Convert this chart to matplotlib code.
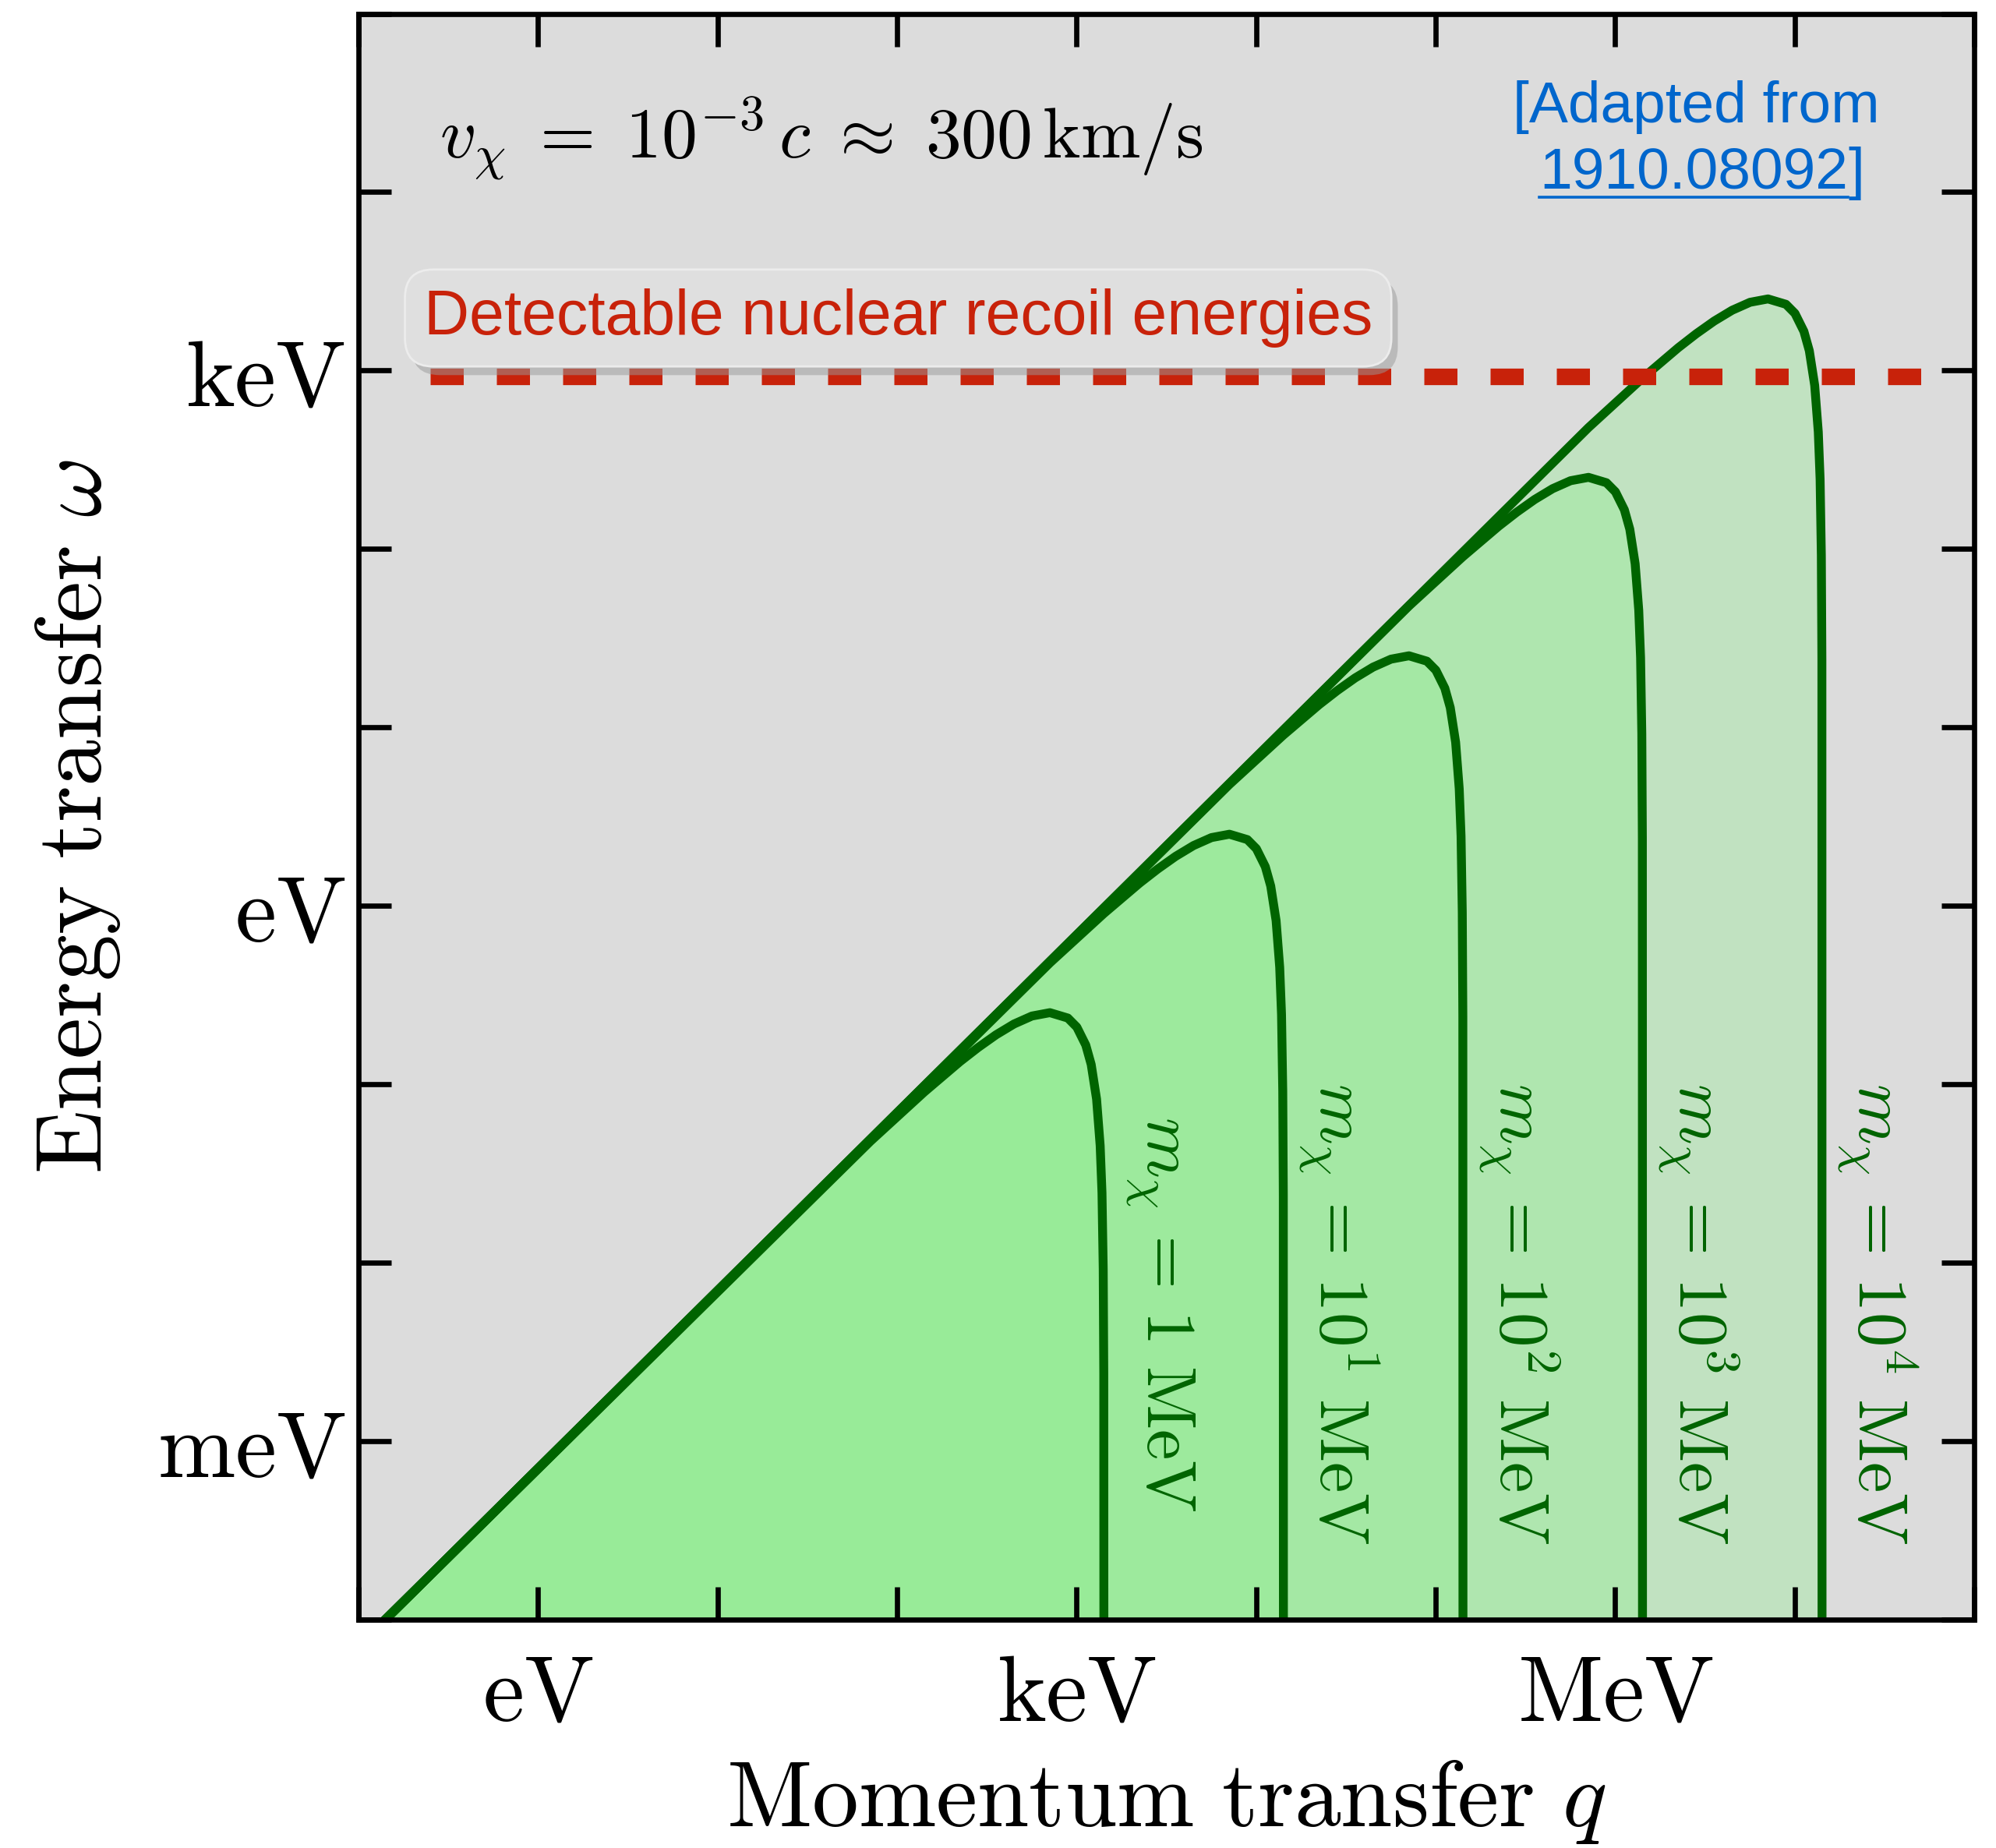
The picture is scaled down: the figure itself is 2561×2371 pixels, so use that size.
"""
Kinematically allowed (q, omega) region for DM-nucleus scattering,
one envelope per DM mass, with the nuclear-recoil detection threshold.
"""

import matplotlib
matplotlib.use("Agg")
import matplotlib.pyplot as plt
import matplotlib.patheffects as pe
from matplotlib.ticker import FixedLocator, FuncFormatter, NullLocator

plt.rcParams["mathtext.fontset"] = "cm"

# ── Data (eV) ─────────────────────────────────────────────────────────────────

mass_labels = ["1", "10^{1}", "10^{2}", "10^{3}", "10^{4}"]

q_1MeV = [0.1, 71.0, 141.7, 224.5, 282.7, 355.8, 448.0, 564.0, 710.0,
          893.8, 1003, 1125, 1206, 1292, 1353, 1385, 1407, 1417, 1420]
w_1MeV = [7.1e-5, 0.0479, 0.0905, 0.1342, 0.1607, 0.1893, 0.2177, 0.2413,
          0.252, 0.2351, 0.2091, 0.1658, 0.1291, 0.0826, 0.0453, 0.0246,
          0.0092, 0.0024, 1e-5]

q_10MeV = [0.1, 710, 1417, 2245, 2827, 3558, 4480, 5640, 7100,
           8938, 10030, 11250, 12060, 12920, 13530, 13850, 14070, 14170, 14200]
w_10MeV = [7.1e-5, 0.479, 0.905, 1.342, 1.607, 1.893, 2.177, 2.413,
           2.52, 2.351, 2.091, 1.658, 1.291, 0.826, 0.453, 0.246,
           0.092, 0.024, 1e-5]

q_100MeV = [0.1, 7.1e3, 1.417e4, 2.245e4, 2.827e4, 3.558e4, 4.48e4, 5.64e4, 7.1e4,
            8.938e4, 1.003e5, 1.125e5, 1.206e5, 1.292e5, 1.353e5, 1.385e5,
            1.407e5, 1.417e5, 1.42e5]
w_100MeV = [7.1e-5, 4.79, 9.05, 13.42, 16.07, 18.93, 21.77, 24.13,
            25.2, 23.51, 20.91, 16.58, 12.91, 8.26, 4.53, 2.46,
            0.92, 0.24, 1e-5]

q_1GeV = [0.1, 7.1e4, 1.417e5, 2.245e5, 2.827e5, 3.558e5, 4.48e5, 5.64e5, 7.1e5,
          8.938e5, 1.003e6, 1.125e6, 1.206e6, 1.292e6, 1.353e6, 1.385e6,
          1.407e6, 1.417e6, 1.42e6]
w_1GeV = [7.1e-5, 47.9, 90.5, 134.2, 160.7, 189.3, 217.7, 241.3,
          252.0, 235.1, 209.1, 165.8, 129.1, 82.6, 45.3, 24.6,
          9.2, 2.4, 1e-5]

q_10GeV = [0.1, 7.1e5, 1.417e6, 2.245e6, 2.827e6, 3.558e6, 4.48e6, 5.64e6, 7.1e6,
           8.938e6, 1.003e7, 1.125e7, 1.206e7, 1.292e7, 1.353e7, 1.385e7,
           1.407e7, 1.417e7, 1.42e7]
w_10GeV = [7.1e-5, 479, 905, 1342, 1607, 1893, 2177, 2413,
           2520, 2351, 2091, 1658, 1291, 826, 453, 246,
           92, 24, 1e-5]

curves = [(q_1MeV, w_1MeV), (q_10MeV, w_10MeV), (q_100MeV, w_100MeV),
          (q_1GeV, w_1GeV), (q_10GeV, w_10GeV)]

# label anchor for each mass (centre of rotated text)
label_q = [2.9e3, 2.9e4, 2.9e5, 2.9e6, 2.9e7]
label_w = 5.2e-3

# nuclear-recoil threshold line
thr_q = [0.25, 5.2e7]
thr_w = [930, 930]

x_ticklabels = {1e0: "eV", 1e3: "keV", 1e6: "MeV"}
y_ticklabels = {1e-3: "meV", 1e0: "eV", 1e3: "keV"}

# ── Style ────────────────────────────────────────────────────────────────────

BG     = "#dcdcdc"
GREEN  = "#006400"
FILL   = "#90ee90"
RED    = "#c8220a"
BLUE   = "#0066cc"
SANS   = "Liberation Sans"

fig = plt.figure(figsize=(12.805, 11.855), dpi=200)
ax = fig.add_axes([0.1796, 0.1236, 0.9891 - 0.1796, 0.9926 - 0.1236])
ax.set_facecolor(BG)
ax.set_xscale("log")
ax.set_yscale("log")
ax.set_xlim(1e-1, 1e8)
ax.set_ylim(1e-4, 1e5)

# ── Allowed regions ──────────────────────────────────────────────────────────
for q, w in curves:
    ax.fill_between(q, w, 1e-6, color=FILL, alpha=0.35, lw=0, zorder=1)
for q, w in curves:
    ax.plot(q, w, color=GREEN, lw=4.1, zorder=2, solid_joinstyle="round")

for lab, lq in zip(mass_labels, label_q):
    ax.text(lq, label_w, rf"$m_\chi \,=\, {lab}\ \mathrm{{MeV}}$", color=GREEN,
            fontsize=32, rotation=-90, ha="center", va="center", zorder=3)

# ── Threshold ────────────────────────────────────────────────────────────────
ax.plot(thr_q, thr_w, color=RED, lw=7.65, dashes=(2, 2),
        solid_capstyle="butt", dash_capstyle="butt", zorder=4)

box = ax.text(0.334, 0.8105, "Detectable nuclear recoil energies",
              transform=ax.transAxes, fontsize=29, color=RED, family=SANS,
              ha="center", va="center", zorder=5,
              bbox=dict(boxstyle="round,pad=0.3,rounding_size=0.45",
                        facecolor="#dfdfdf", edgecolor="#ececec", lw=1.0))
box.get_bbox_patch().set_path_effects(
    [pe.SimplePatchShadow(offset=(3, -4), shadow_rgbFace="#9a9a9a", alpha=0.5),
     pe.Normal()])

# ── Annotations ──────────────────────────────────────────────────────────────
ax.text(0.05, 0.91,
        r"$v_\chi \;=\; 10^{-3}\,c \;\approx\; 300\,\mathrm{km/s}$",
        transform=ax.transAxes, fontsize=33, ha="left", va="baseline")

ax.text(0.828, 0.9325, "[Adapted from", transform=ax.transAxes, fontsize=27,
        color=BLUE, family=SANS, ha="center", va="baseline")
ref = ax.text(0.8265, 0.8913, "1910.08092", transform=ax.transAxes, fontsize=27,
              color=BLUE, family=SANS, ha="center", va="baseline")

fig.canvas.draw()
bb = ref.get_window_extent().transformed(ax.transAxes.inverted())
ax.text(bb.x1, 0.8913, "]", transform=ax.transAxes, fontsize=27,
        color=BLUE, family=SANS, ha="left", va="baseline")
ax.plot([bb.x0, bb.x1], [0.8855, 0.8855], transform=ax.transAxes,
        color=BLUE, lw=1.3, zorder=5)

# ── Axes ─────────────────────────────────────────────────────────────────────
decades_x = [10.0 ** k for k in range(-1, 9)]
decades_y = [10.0 ** k for k in range(-4, 6)]
ax.xaxis.set_major_locator(FixedLocator(decades_x))
ax.yaxis.set_major_locator(FixedLocator(decades_y))
ax.xaxis.set_minor_locator(NullLocator())
ax.yaxis.set_minor_locator(NullLocator())


def _fmt(table):
    def f(v, _pos):
        for key, name in table.items():
            if abs(v / key - 1) < 1e-6:
                return rf"$\mathrm{{{name}}}$"
        return ""
    return FuncFormatter(f)


ax.xaxis.set_major_formatter(_fmt(x_ticklabels))
ax.yaxis.set_major_formatter(_fmt(y_ticklabels))

ax.tick_params(which="both", direction="in", top=True, right=True,
               length=15, width=2.4, labelsize=43)
ax.tick_params(axis="x", pad=14)
ax.tick_params(axis="y", pad=6)
for sp in ax.spines.values():
    sp.set_linewidth(2.4)

ax.set_xlabel(r"$\mathrm{Momentum\ transfer}\ q$", fontsize=43, labelpad=7)
ax.set_ylabel(r"$\mathrm{Energy\ transfer}\ \omega$", fontsize=43, labelpad=16)

fig.savefig("out.png", dpi=200)
